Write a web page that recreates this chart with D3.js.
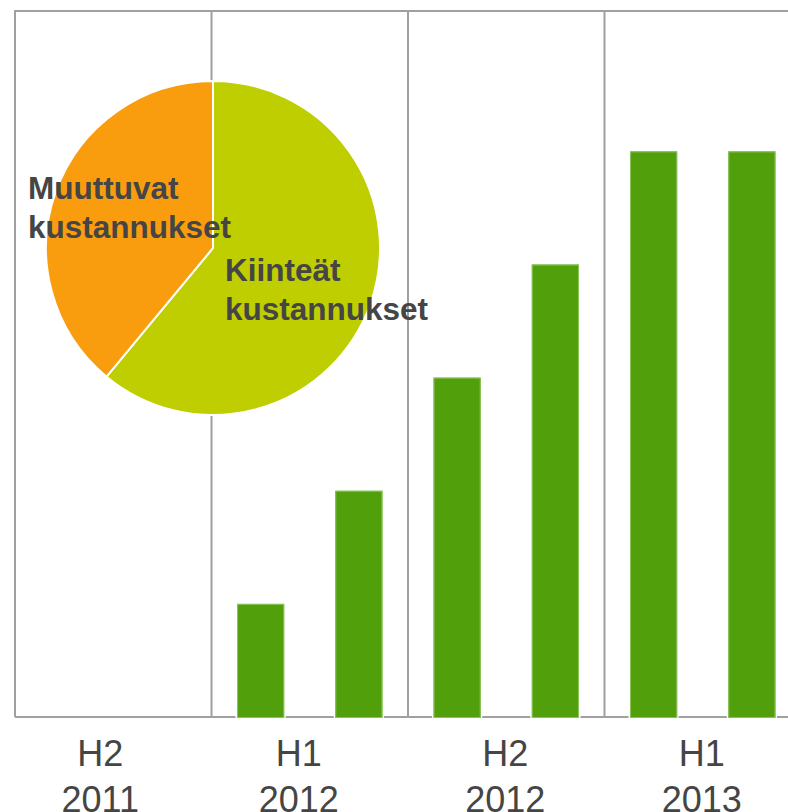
<!DOCTYPE html>
<html>
<head>
<meta charset="utf-8">
<script src="https://cdn.jsdelivr.net/npm/d3@7"></script>
<style>
  body { margin: 0; background: #fff; }
  svg { display: block; font-family: "Liberation Sans", Arial, sans-serif; }
</style>
</head>
<body>
<div id="chart"></div>
<script>
// half-year periods, two bars each
const periods = ["H2|2011", "H1|2012", "H2|2012", "H1|2013"];
const barKeys = ["a0", "a1", "b0", "b1", "c0", "c1", "d0", "d1"];
const barValues = [0, 0, 1, 2, 3, 4, 5, 5];

// pie of cost split
const pieLabels = ["Kiinteät|kustannukset", "Muuttuvat|kustannukset"];
const pieValues = [61, 39];
const pieColors = ["#bfce00", "#f99d0f"];

const W = 788, H = 812;
const plotLeft = 15, plotRight = 801, plotTop = 10, plotBottom = 717;

const svg = d3.select("#chart").append("svg")
  .attr("width", W).attr("height", H);

const x = d3.scaleBand().domain(barKeys).range([plotLeft, plotRight]).paddingInner(0.52).paddingOuter(0.26);
const xg = d3.scaleBand().domain(periods).range([plotLeft, plotRight]);
const y = d3.scaleLinear().domain([0, 6.25]).range([plotBottom, plotTop]);

const grey = "#a0a0a0";

// frame + group separators
svg.append("line").attr("x1", plotLeft).attr("x2", W).attr("y1", plotTop + 1).attr("y2", plotTop + 1)
  .attr("stroke", grey).attr("stroke-width", 2);
svg.append("line").attr("x1", plotLeft).attr("x2", plotLeft).attr("y1", plotTop).attr("y2", plotBottom)
  .attr("stroke", grey).attr("stroke-width", 2);
svg.selectAll("line.sep").data(periods.slice(1)).enter().append("line")
  .attr("class", "sep")
  .attr("x1", d => xg(d)).attr("x2", d => xg(d))
  .attr("y1", plotTop).attr("y2", plotBottom)
  .attr("stroke", grey).attr("stroke-width", 2);
svg.append("line").attr("x1", plotLeft).attr("x2", W).attr("y1", plotBottom).attr("y2", plotBottom)
  .attr("stroke", grey).attr("stroke-width", 2);

// bars (zero bars skipped)
const barData = barValues.map((v, i) => ({k: barKeys[i], v: v})).filter(d => d.v > 0);
svg.selectAll("rect.bar").data(barData)
  .enter().append("rect")
  .attr("class", "bar")
  .attr("x", d => x(d.k))
  .attr("y", d => y(d.v))
  .attr("width", x.bandwidth())
  .attr("height", d => y(0) - y(d.v) + 1)
  .attr("fill", "#529f0c")
  .attr("stroke", "#ffffff")
  .attr("stroke-width", 3)
  .attr("paint-order", "stroke");
svg.selectAll("rect.edge").data(barData)
  .enter().append("rect")
  .attr("class", "edge")
  .attr("x", d => x(d.k) + 0.5)
  .attr("y", d => y(d.v) + 0.5)
  .attr("width", x.bandwidth() - 1)
  .attr("height", d => y(0) - y(d.v))
  .attr("fill", "none")
  .attr("stroke", "#8cc45a")
  .attr("stroke-width", 1);

// category labels (sit a bit left of group centre in the original)
const labShift = [-13, -11, -1, -1];
const lab = svg.selectAll("text.cat").data(periods).enter().append("text")
  .attr("class", "cat")
  .attr("y", 766)
  .attr("text-anchor", "middle")
  .attr("font-size", 36)
  .attr("fill", "#454545");
lab.append("tspan").attr("x", (d, i) => xg(d) + xg.bandwidth() / 2 + labShift[i]).text(d => d.split("|")[0]);
lab.append("tspan").attr("x", (d, i) => xg(d) + xg.bandwidth() / 2 + labShift[i]).attr("dy", 46).text(d => d.split("|")[1]);

// pie
const cx = 213, cy = 248, r = 167;
const pie = d3.pie().sort(null).value(d => d)(pieValues);
const arc = d3.arc().innerRadius(0).outerRadius(r);
const pg = svg.append("g").attr("transform", `translate(${cx},${cy})`);
pg.selectAll("path").data(pie).enter().append("path")
  .attr("d", arc)
  .attr("fill", (d, i) => pieColors[i])
  .attr("stroke", "#ffffff")
  .attr("stroke-width", 2);

// pie labels
const labPos = [[12, 33], [-185, -49]];
pieLabels.forEach((t, i) => {
  const tx = svg.append("text")
    .attr("x", cx + labPos[i][0]).attr("y", cy + labPos[i][1])
    .attr("font-size", 31.5).attr("font-weight", "bold").attr("fill", "#454545");
  t.split("|").forEach((s, j) => {
    tx.append("tspan").attr("x", cx + labPos[i][0]).attr("dy", j ? 39 : 0).text(s);
  });
});
</script>
</body>
</html>
